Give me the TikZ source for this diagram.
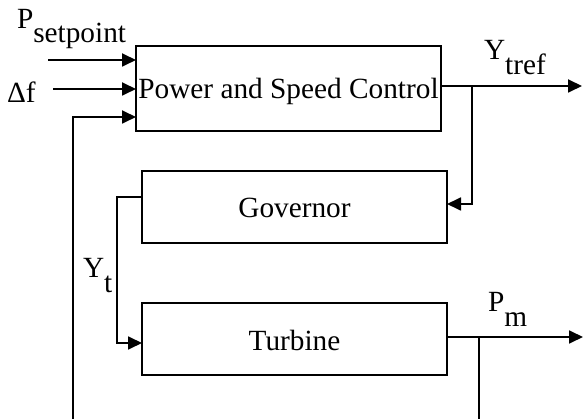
\documentclass[tikz,border=0pt]{standalone}
\usepackage{fontspec}
\setmainfont{Liberation Serif}
\usetikzlibrary{arrows.meta}
\begin{document}
\begin{tikzpicture}[x=1pt,y=-1pt,
  box/.style={draw,line width=1.8pt,minimum width=305pt,inner sep=0pt,outer sep=0pt},
  lbl/.style={anchor=base west,inner sep=0pt,outer sep=0pt,font=\fontsize{29.3}{31}\selectfont},
  line/.style={line width=1.8pt},
  arr/.style={line width=1.8pt,-{Triangle[length=14pt,width=13pt]}}]
\useasboundingbox (0,0) rectangle (583,419);
% blocks
\node[box,minimum height=85pt] (psc) at (288.5,88.5) {};
\node[box,minimum height=72pt] (gov) at (294.5,207) {};
\node[box,minimum height=72pt] (tur) at (294.5,339) {};
\node[lbl,anchor=base] (psct) at (288.5,99) {Power and Speed Control};
\node[lbl,anchor=base] (govt) at (294.5,218) {Governor};
\node[lbl,anchor=base] (turt) at (294.5,350) {Turbine};
% labels
\node[lbl] (lsp) at (17,28.5) {P\raisebox{-14.5pt}{setpoint}};
\node[lbl] (ldf) at (7,103) {Δf};
\node[lbl] (ly) at (484,60) {Y\raisebox{-15pt}{tref}};
\node[lbl] (lyt) at (83,278) {Y\raisebox{-15pt}{t}};
\node[lbl] (lpm) at (488,312) {P\raisebox{-15pt}{m}};
% free ends
\coordinate (sp) at (48,60);
\coordinate (df) at (53,89);
\coordinate (fbb) at (73,419);
\coordinate (fbi) at (73,117);
\coordinate (yo) at (441,86);
\coordinate (yend) at (582,86);
\coordinate (ybr) at (472,86);
\coordinate (go) at (117,197);
\coordinate (to) at (447,337);
\coordinate (tend) at (583,337);
\coordinate (tbr) at (479,337);
\coordinate (tbb) at (479,419);
% connectors
\draw[arr] (sp) -- (sp -| psc.west);
\draw[arr] (df) -- (df -| psc.west);
\draw[arr] (fbb) -- (fbi) -- (fbi -| psc.west);
\draw[arr] (yo) -- (yend);
\draw[arr] (ybr) |- (gov.east |- 0,204);
\draw[arr] (gov.west |- go) -- (go) |- (tur.west |- 0,343);
\draw[arr] (to) -- (tend);
\draw[line] (tbr) -- (tbb);
\end{tikzpicture}
\end{document}
